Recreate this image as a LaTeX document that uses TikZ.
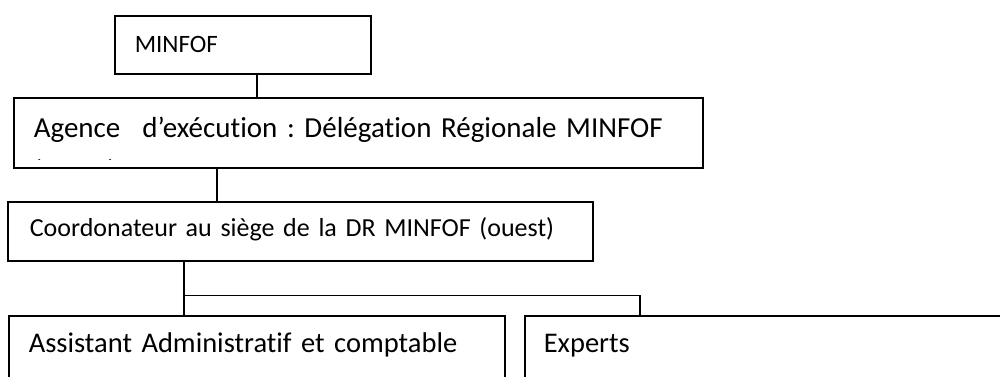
\documentclass[tikz,border=0pt]{standalone}
\usepackage{fontspec}
\setmainfont{Carlito}[Ligatures={TeX,NoCommon}]
\frenchspacing
\usetikzlibrary{positioning}
\tikzset{
  org_box/.style = {draw, line width=1.6pt, anchor=north west, align=left,
    inner xsep=20pt, inner ysep=0pt},
  org_link/.style = {line width=1.6pt}
}

\begin{document}
\begin{tikzpicture}[x=1pt,y=1pt]
\useasboundingbox (0,0) rectangle (1000,-376);
\node [org_box, text width=216pt, text height=37pt, text depth=21pt,
  font=\fontsize{25}{30}\selectfont] (minfof) at (114,-15) {MINFOF};
\node [org_box, text width=649pt, text height=40pt, text depth=30pt,
  font=\fontsize{29}{35}\selectfont] (agence) at (13,-97)
  {Agence\hspace{22pt}d’exécution : Délégation Régionale MINFOF};
% second line of the text, cut off by the box
\begin{scope}
  \clip ([yshift=9pt]agence.south west) rectangle (agence.north east);
  \node [anchor=base west, inner sep=0pt, font=\fontsize{29}{35}\selectfont]
    (agence_rest) at (33,-180) {(ouest)};
\end{scope}
\node [org_box, inner xsep=22pt, text width=541pt, text height=35pt, text depth=24pt,
  font=\fontsize{26}{31}\selectfont] (coord) at (7,-201)
  {Coordonateur au siège de la DR MINFOF (ouest)};
\node [org_box, text width=456pt, text height=37pt, text depth=48pt,
  font=\fontsize{28.5}{34}\selectfont] (assistant) at (8,-315)
  {Assistant Administratif et comptable};
\node [org_box, inner xsep=19pt, text width=462pt, text height=37pt, text depth=48pt,
  font=\fontsize{28.5}{34}\selectfont] (experts) at (524,-315) {Experts};

\draw [org_link] ([xshift=14pt]minfof.south) -- ([xshift=14pt]minfof.south |- agence.north);
\draw [org_link] ([xshift=-83.5pt]coord.north) -- ([xshift=-83.5pt]coord.north |- agence.south);
\draw [org_link] ([xshift=-116.5pt]coord.south) -- ([xshift=-116.5pt]coord.south |- assistant.north);
\draw [org_link] ([xshift=-116.5pt, yshift=-34pt]coord.south) -| ([xshift=-135pt]experts.north);
\end{tikzpicture}
\end{document}
